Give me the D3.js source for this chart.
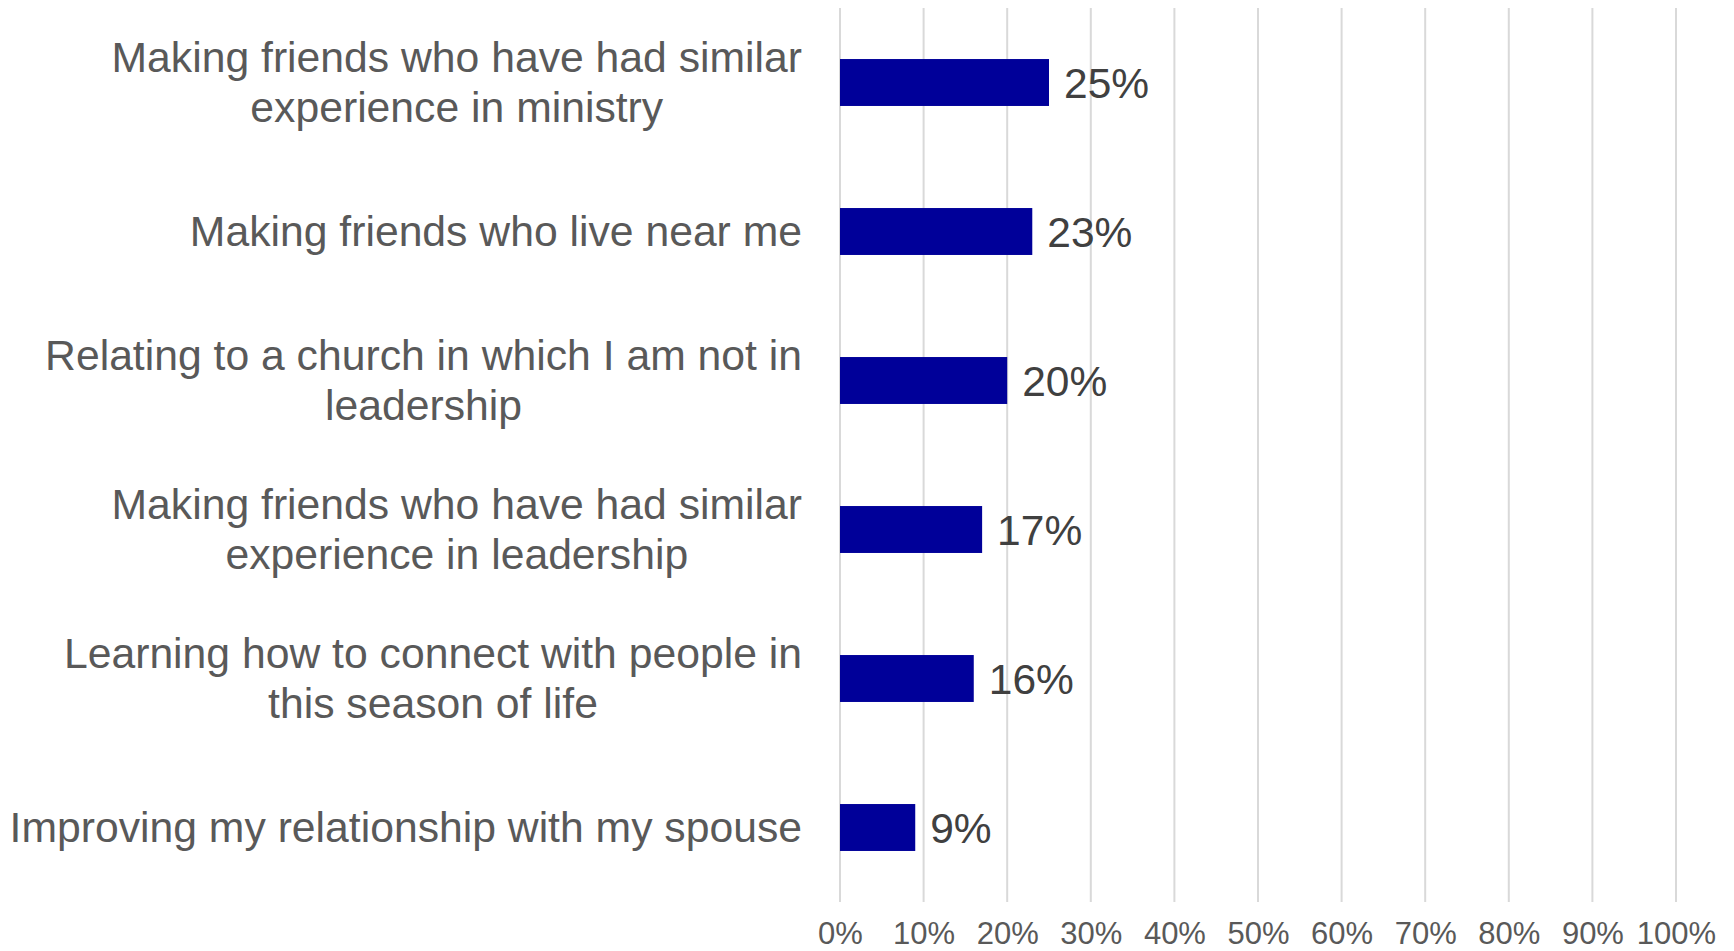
<!DOCTYPE html>
<html>
<head>
<meta charset="utf-8">
<script src="https://cdn.jsdelivr.net/npm/d3@7"></script>
<style>
  html, body { margin: 0; padding: 0; background: #fff; }
  svg { display: block; font-family: "Liberation Sans", Arial, sans-serif; }
</style>
</head>
<body>
<svg id="chart" width="1734" height="951"></svg>
<script>
const categories = [
  ["Making friends who have had similar", "experience in ministry"],
  ["Making friends who live near me"],
  ["Relating to a church in which I am not in", "leadership"],
  ["Making friends who have had similar", "experience in leadership"],
  ["Learning how to connect with people in", "this season of life"],
  ["Improving my relationship with my spouse"]
];
const values = [25, 23, 20, 17, 16, 9];
const tickValues = [0, 10, 20, 30, 40, 50, 60, 70, 80, 90, 100];

(function () {
const svg = d3.select("#chart");
const plotLeft = 840, plotRight = 1676, plotTop = 8, plotBottom = 902;

const x = d3.scaleLinear().domain([0, 100]).range([plotLeft, plotRight]);
const y = d3.scaleBand().domain(d3.range(categories.length)).range([plotTop, plotBottom]).paddingInner(0.685).paddingOuter(0.3425);

// gridlines
svg.append("g").selectAll("line").data(tickValues).join("line")
  .attr("x1", d => x(d)).attr("x2", d => x(d))
  .attr("y1", plotTop).attr("y2", plotBottom)
  .attr("stroke", "#d9d9d9").attr("stroke-width", 2);

// x axis tick labels
const xAxis = d3.axisBottom(x).tickValues(tickValues).tickFormat(d => d + "%").tickSize(0).tickPadding(0);
const gx = svg.append("g").attr("transform", `translate(0, ${plotBottom})`).call(xAxis);
gx.select(".domain").remove();
gx.selectAll("text")
  .attr("y", 42)
  .attr("dy", null)
  .attr("font-size", 31)
  .attr("font-family", "Liberation Sans, Arial, sans-serif")
  .attr("fill", "#595959");

// bars
svg.append("g").selectAll("rect").data(values).join("rect")
  .attr("x", x(0))
  .attr("y", (d, i) => y(i))
  .attr("width", d => x(d) - x(0))
  .attr("height", y.bandwidth())
  .attr("fill", "#000099");

// value labels
svg.append("g").selectAll("text").data(values).join("text")
  .attr("x", d => x(d) + 15)
  .attr("y", (d, i) => y(i) + y.bandwidth() / 2)
  .attr("dy", "0.36em")
  .attr("font-size", 42.5)
  .attr("fill", "#404040")
  .text(d => d + "%");

// category labels: block right-aligned, lines centered within block
const labelRight = 802;
const lineH = 50;
categories.forEach((lines, i) => {
  const cy = y(i) + y.bandwidth() / 2;
  const g = svg.append("g");
  const texts = lines.map((ln, j) => g.append("text")
    .attr("font-size", 42.7)
    .attr("fill", "#595959")
    .attr("text-anchor", "middle")
    .attr("dy", "0.34em")
    .attr("y", cy + (j - (lines.length - 1) / 2) * lineH)
    .text(ln));
  const maxW = d3.max(texts, t => t.node().getComputedTextLength());
  texts.forEach(t => t.attr("x", labelRight - maxW / 2));
});
})();
</script>
</body>
</html>
